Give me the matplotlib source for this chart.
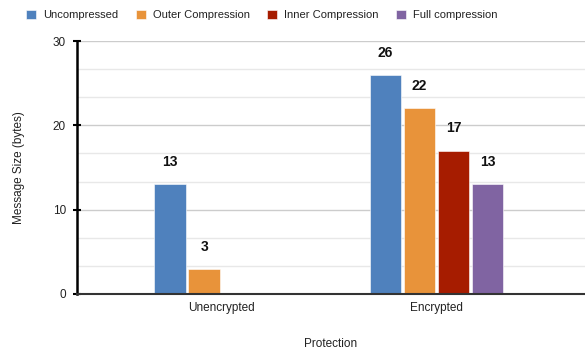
import matplotlib.pyplot as plt
import numpy as np

plt.rcParams['font.family'] = ['Liberation Sans', 'DejaVu Sans']

groups = ["Unencrypted", "Encrypted"]
series = ["Uncompressed", "Outer Compression", "Inner Compression", "Full compression"]
values = [
    [13, 26],
    [3, 22],
    [0, 17],
    [0, 13],
]
colors = ["#4f81bd", "#e8933a", "#a61c00", "#8064a2"]

fig = plt.figure(figsize=(5.85, 3.53), dpi=100)
ax = fig.add_axes([77 / 585, 59 / 353, 1 - 77 / 585, 253 / 353])

x = np.arange(len(groups))
width = 0.148
step = 0.158
for i, (name, vals, col) in enumerate(zip(series, values, colors)):
    pos = x + (i - 1.5) * step
    bars = ax.bar(pos, vals, width, color=col, label=name, zorder=3,
                  edgecolor="white", linewidth=0.4)
    for b, v in zip(bars, vals):
        if v > 0:
            ax.text(b.get_x() + b.get_width() / 2, v + 1.8, str(v),
                    ha="center", va="bottom", fontsize=10, fontweight="bold",
                    color="#111111")

ax.set_xlim(-0.67, 1.69)
ax.set_ylim(0, 30)
ax.set_yticks([0, 10, 20, 30])
ax.set_yticks(np.arange(0, 30, 10 / 3), minor=True)
ax.grid(axis="y", which="major", color="#cccccc", linewidth=1, zorder=0)
ax.grid(axis="y", which="minor", color="#e8e8e8", linewidth=1, zorder=0)
ax.tick_params(axis="y", which="major", length=6, width=1.5, direction="inout",
               labelsize=8.5, colors="black", pad=5)
ax.tick_params(axis="y", which="minor", length=0)
ax.tick_params(axis="y", labelcolor="#222222")
ax.set_xticks(x)
ax.set_xticklabels(groups)
ax.tick_params(axis="x", length=0, labelsize=8.5, pad=6, labelcolor="#222222")

for s in ["top", "right"]:
    ax.spines[s].set_visible(False)
ax.spines["left"].set_linewidth(1.8)
ax.spines["left"].set_color("black")
ax.spines["bottom"].set_linewidth(1.5)
ax.spines["bottom"].set_color("#333333")
ax.spines["bottom"].set_zorder(4)

ax.set_xlabel("Protection", fontsize=8.5, color="#222222", labelpad=17)
ax.set_ylabel("Message Size (bytes)", fontsize=8.5, color="#222222", labelpad=20)

fig.legend(loc="upper left", bbox_to_anchor=(0.028, 1.0), ncol=4, frameon=False,
           fontsize=8, handlelength=0.9, handleheight=0.9, handletextpad=0.6,
           columnspacing=1.6, labelcolor="#222222")

fig.savefig("out.png", dpi=100)
